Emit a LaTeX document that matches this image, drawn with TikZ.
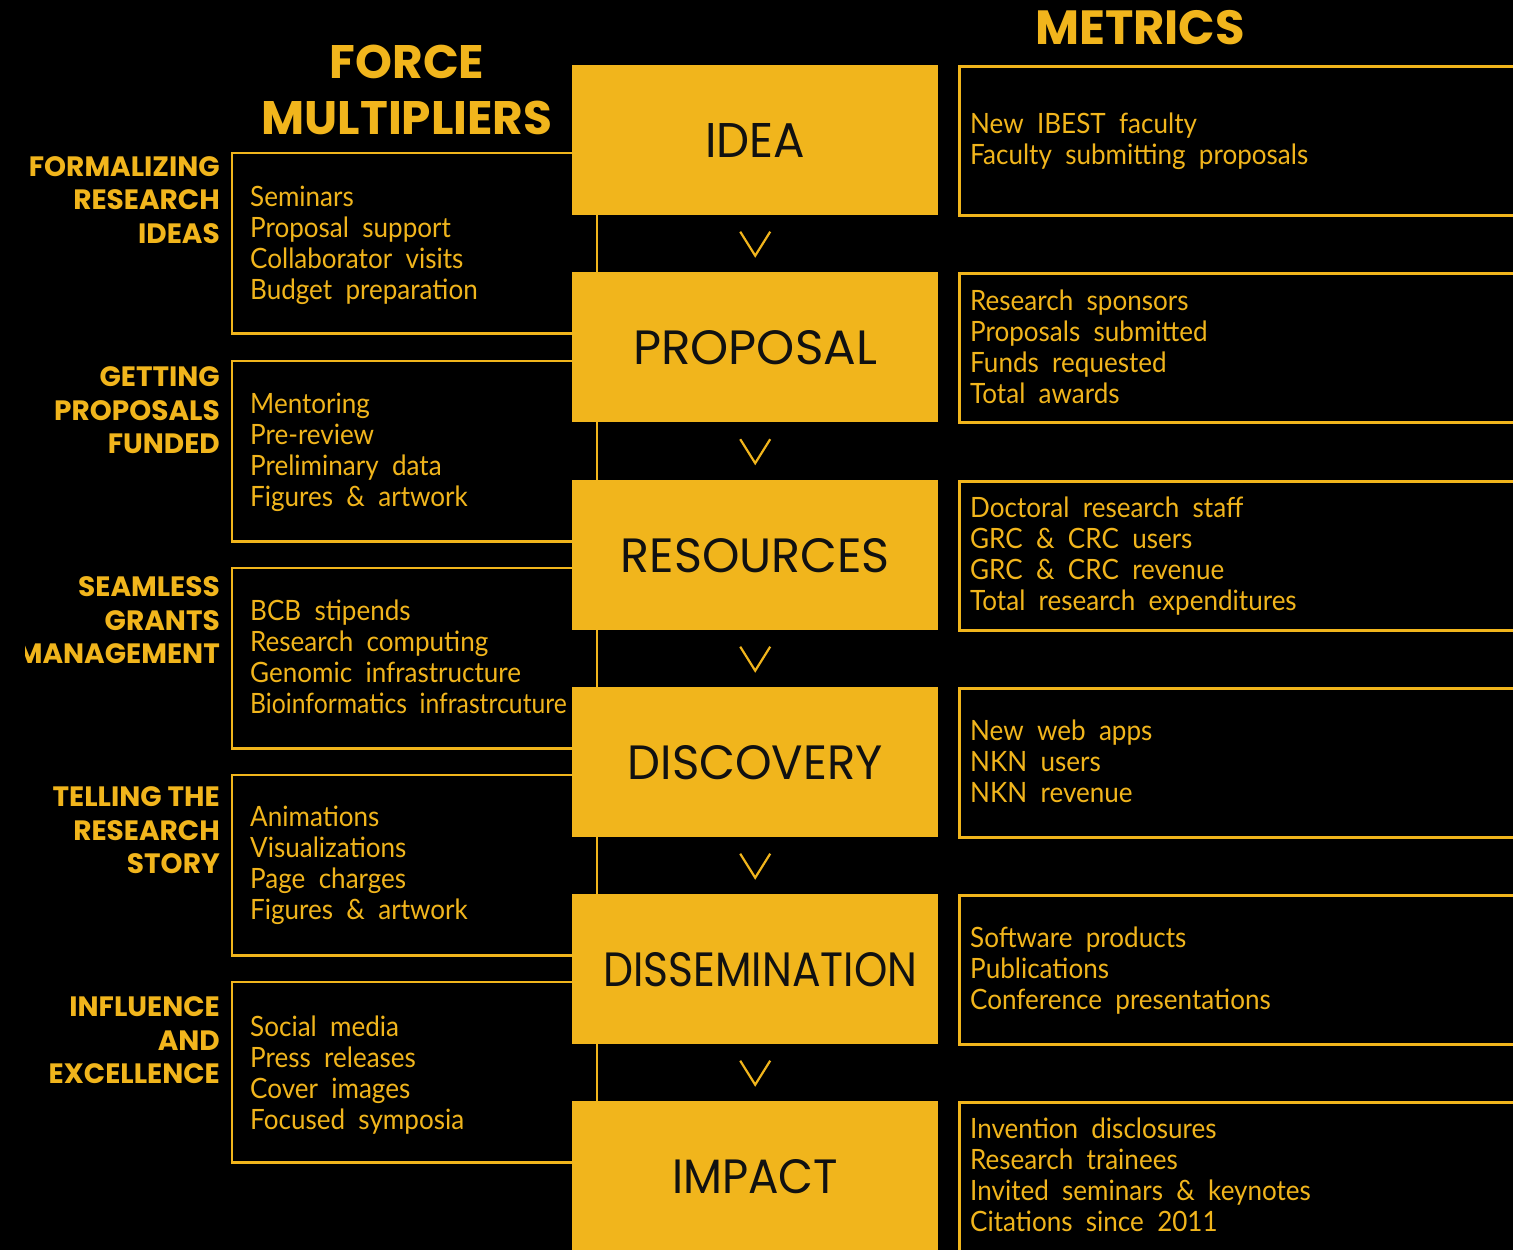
\documentclass[tikz,border=0pt]{standalone}
\usepackage{graphicx}
\usepackage{fontspec}
\setmainfont{Poppins}
\newfontfamily\bodyfont{Lato}[FakeStretch=0.93, WordSpace=2]
\usetikzlibrary{calc}
\definecolor{gold}{HTML}{F1B51C}
\definecolor{ink}{HTML}{111111}
\begin{document}
\begin{tikzpicture}[x=1pt,y=-1pt,
  stage/.style={fill=gold, draw=none, minimum width=366pt, minimum height=150pt,
    inner sep=0pt, anchor=north west},
  stagetext/.style={text=ink, inner sep=0pt},
  lbox/.style={draw=none, minimum width=340pt, minimum height=180pt,
    inner sep=0pt, anchor=north west},
  frame/.style={draw=gold, line width=2.5pt},
  mbox/.style={draw=gold, line width=2.5pt, minimum width=620pt, minimum height=149pt,
    inner sep=0pt, anchor=north west},
  link/.style={draw=gold, line width=2pt},
  chev/.style={draw=gold, line width=2.2pt},
  heading/.style={text=gold, font=\bfseries\fontsize{47}{56}\selectfont, align=center},
  sidelabel/.style={text=gold, font=\bfseries\fontsize{28}{33.5}\selectfont, align=right,
    anchor=north east, inner sep=0pt},
  itemlist/.style={text=gold, font=\bodyfont\fontsize{28}{31}\selectfont, align=left,
    anchor=north west, inner sep=0pt}
]
\clip (0,0) rectangle (1513,1250);
\fill[black] (0,0) rectangle (1513,1250);

% headings
\node[heading] (fm) at (407,90) {FORCE\\MULTIPLIERS};
\node[heading, font=\bfseries\fontsize{48}{56}\selectfont] (met) at (1140,28) {METRICS};

% force multiplier boxes (left), open towards the stage column
\foreach \i/\t in {1/153, 2/361, 3/568, 4/775, 5/982} {
  \node[lbox] (lb\i) at (232,\t) {};
  \draw[frame] (lb\i.north east) -- (lb\i.north west) -- (lb\i.south west) -- (lb\i.south east);
}

% metric boxes (right)
\node[mbox] (mb1) at (958,65) {};
\node[mbox] (mb2) at (958,272) {};
\node[mbox] (mb3) at (958,480) {};
\node[mbox] (mb4) at (958,687) {};
\node[mbox] (mb5) at (958,894) {};
\node[mbox] (mb6) at (958,1101) {};

% pipeline stages
\node[stage] (st1) at (572,65) {};
\node[stage] (st2) at (572,272) {};
\node[stage] (st3) at (572,480) {};
\node[stage] (st4) at (572,687) {};
\node[stage] (st5) at (572,894) {};
\node[stage] (st6) at (572,1101) {};

\node[stagetext] at (st1.center) {\resizebox{100pt}{34pt}{IDEA}};
\node[stagetext] at (st2.center) {\resizebox{244pt}{34pt}{PROPOSAL}};
\node[stagetext] at (st3.center) {\resizebox{269pt}{34pt}{RESOURCES}};
\node[stagetext] at (st4.center) {\resizebox{255pt}{34pt}{DISCOVERY}};
\node[stagetext] at ([xshift=5pt]st5.center) {\resizebox{314pt}{34pt}{DISSEMINATION}};
\node[stagetext] at (st6.center) {\resizebox{166pt}{34pt}{IMPACT}};

% links between stages
\foreach \a/\b in {st1/st2, st2/st3, st3/st4, st4/st5, st5/st6} {
  \draw[link] ([xshift=25pt]\a.south west) -- ([xshift=25pt]\b.north west);
  \draw[chev] ($(\a.south)!0.5!(\b.north)$) ++(-15,-12) -- ++(15,24) -- ++(15,-24);
}

% side labels
\begin{scope}
\clip (25,0) rectangle (232,1250);
\node[sidelabel] (ll1) at (220,156) {FORMALIZING\\RESEARCH\\IDEAS};
\node[sidelabel] (ll2) at (220,366.5) {GETTING\\PROPOSALS\\FUNDED};
\node[sidelabel] (ll3) at (220,576.5) {SEAMLESS\\GRANTS\\MANAGEMENT};
\node[sidelabel] (ll4) at (220,786.5) {TELLING THE\\RESEARCH\\STORY};
\node[sidelabel] (ll5) at (220,996.5) {INFLUENCE\\AND\\EXCELLENCE};
\end{scope}

% force multiplier items
\node[itemlist] (lt1) at (250,186) {Seminars\\Proposal support\\Collaborator visits\\Budget preparation};
\node[itemlist] (lt2) at (250,393) {Mentoring\\Pre-review\\Preliminary data\\Figures \& artwork};
\node[itemlist] (lt3) at (250,600) {BCB stipends\\Research computing\\Genomic infrastructure\\\scalebox{0.95}[1]{Bioinformatics infrastrcuture}};
\node[itemlist] (lt4) at (250,806) {Animations\\Visualizations\\Page charges\\Figures \& artwork};
\node[itemlist] (lt5) at (250,1016) {Social media\\Press releases\\Cover images\\Focused symposia};

% metric items
\node[itemlist] (mt1) at (970,113) {New IBEST faculty\\Faculty submitting proposals};
\node[itemlist] (mt2) at (970,290) {Research sponsors\\Proposals submitted\\Funds requested\\Total awards};
\node[itemlist] (mt3) at (970,497) {Doctoral research staff\\GRC \& CRC users\\GRC \& CRC revenue\\Total research expenditures};
\node[itemlist] (mt4) at (970,720) {New web apps\\NKN users\\NKN revenue};
\node[itemlist] (mt5) at (970,927) {Software products\\Publications\\Conference presentations};
\node[itemlist] (mt6) at (970,1118) {Invention disclosures\\Research trainees\\Invited seminars \& keynotes\\Citations since 2011};
\end{tikzpicture}
\end{document}
